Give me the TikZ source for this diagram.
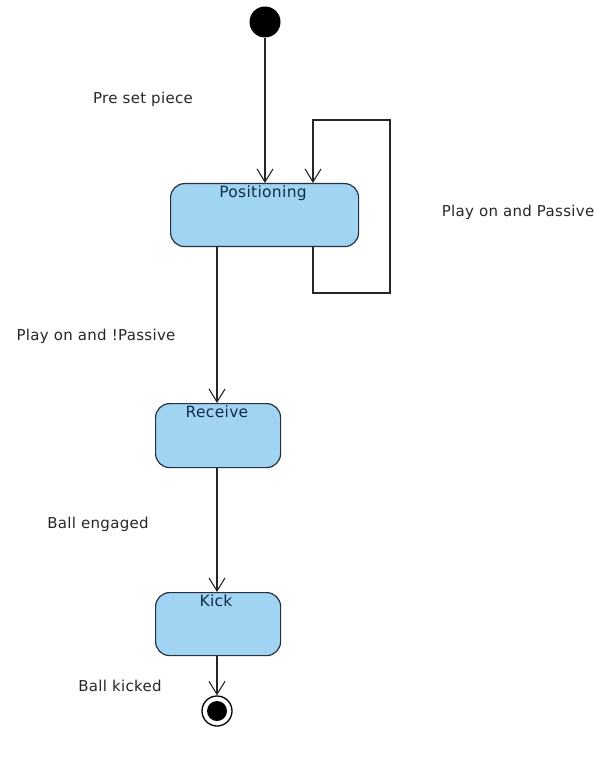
\documentclass[tikz,border=0pt]{standalone}
\usepackage{fontspec}
\setmainfont{DejaVu Sans}[LetterSpace=2]
\usetikzlibrary{arrows.meta}
\definecolor{statefill}{RGB}{160,212,242}
\definecolor{stateline}{RGB}{40,50,60}
\definecolor{statetext}{RGB}{20,45,75}
\begin{document}
\begin{tikzpicture}[x=1pt,y=-1pt,
  state/.style={draw=stateline, fill=statefill, line width=1.2pt, rounded corners=14pt, minimum width=#1, anchor=north west},
  statename/.style={text=statetext, font=\fontsize{15.5}{17}\selectfont, anchor=north, inner sep=2pt},
  lbl/.style={font=\fontsize{15}{17}\selectfont, text=black!85},
  conn/.style={line width=1.1pt, draw=black!85, -{Straight Barb[length=13pt,width=16pt,line width=1.1pt]}},
  plain/.style={line width=1.1pt, draw=black!85}]
\useasboundingbox (0,0) rectangle (602,783);
% initial
\node[circle, fill=black, minimum size=31pt, inner sep=0pt] (init) at (265,22) {};
% Positioning
\node[state=188pt, minimum height=63pt] (pos) at (170,183) {};
\node[statename] (posname) at (263,184) {Positioning};
% Receive
\node[state=125pt, minimum height=64pt] (rec) at (155,403) {};
\node[statename] (recname) at (217,404) {Receive};
% Kick
\node[state=125pt, minimum height=63pt] (kick) at (155,592) {};
\node[statename] (kickname) at (216,593) {Kick};
% final
\node[circle, draw=black, line width=1.3pt, fill=white, minimum size=30pt, inner sep=0pt] (fin) at (217,711) {};
\node[circle, fill=black, minimum size=20pt, inner sep=0pt] (finin) at (217,711) {};
% connectors
\coordinate (posN) at (265,183);
\draw[conn] (init.south) -- (posN);
\coordinate (posS1) at (217,246);
\coordinate (posS2) at (313,246);
\coordinate (posN2) at (313,183);
\draw[conn] (posS1) -- (rec.north -| posS1);
\draw[conn] (rec.south -| posS1) -- (kick.north -| posS1);
\draw[conn] (kick.south -| posS1) -- (fin.north);
\draw[conn] (posS2) -- (313,293) -- (390,293) -- (390,120) -- (313,120) -- (posN2);
% labels
\node[lbl] (l1) at (143,99) {Pre set piece};
\node[lbl] (l2) at (518,212) {Play on and Passive};
\node[lbl] (l3) at (96,336) {Play on and !Passive};
\node[lbl] (l4) at (98,524) {Ball engaged};
\node[lbl] (l5) at (120,686) {Ball kicked};
\end{tikzpicture}
\end{document}
